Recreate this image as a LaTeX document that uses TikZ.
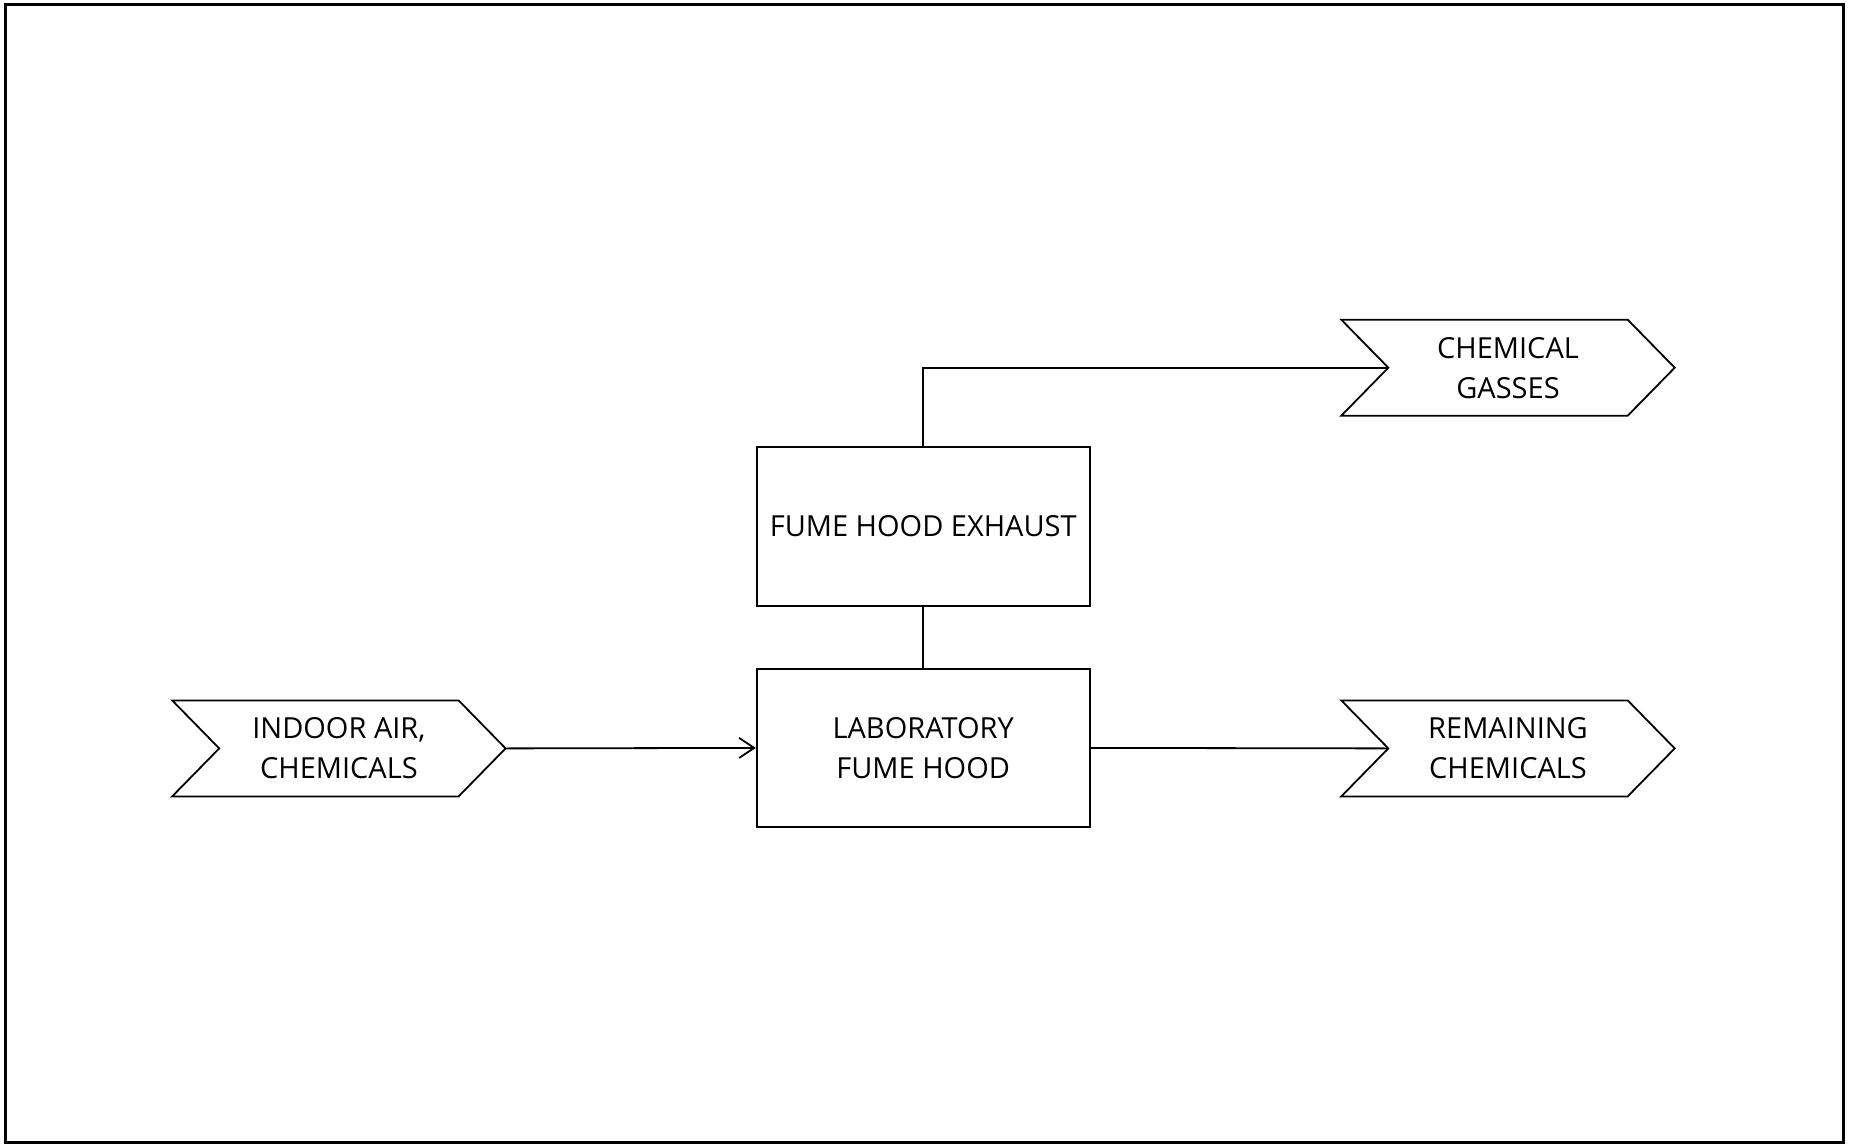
\documentclass[tikz,border=0pt]{standalone}
\usepackage{fontspec}
\setmainfont{Open Sans}
\usetikzlibrary{arrows.meta}

% outline of a chevron-shaped tag around a named node
\newcommand\chevshape[1]{%
  \draw[flow, line join=miter]
    (#1.north west) -- ([xshift=-47pt]#1.north east) -- (#1.east)
    -- ([xshift=-47pt]#1.south east) -- (#1.south west)
    -- ([xshift=47pt]#1.west) -- cycle;}

\begin{document}
\begin{tikzpicture}[x=1pt,y=-1pt,
  flow/.style={line width=1.8pt},
  label/.style={font=\fontsize{29}{40}\selectfont, align=center},
  box/.style={label, draw, line width=1.8pt, minimum width=333pt,
    minimum height=158.5pt, inner sep=0pt},
  tag/.style={label, minimum width=333pt, minimum height=95.6pt, inner sep=0pt},
  head/.style={-{Straight Barb[length=15pt,width=20pt,line width=1.8pt]}}]

\useasboundingbox (0,0) rectangle (1851,1147);
\draw[line width=3pt] (5.5,4.5) rectangle (1843,1142);

% process boxes
\node[box] (exh) at (923.2,526.5) {FUME HOOD EXHAUST};
\node[box] (lab) at (923.2,747.9) {LABORATORY\\FUME HOOD};

% input / output tags
\node[tag] (in)  at (338.9,748.4) {INDOOR AIR,\\CHEMICALS};
\node[tag] (gas) at (1508,367.7)  {CHEMICAL\\GASSES};
\node[tag] (rem) at (1508,748.4)  {REMAINING\\CHEMICALS};
\chevshape{in}
\chevshape{gas}
\chevshape{rem}

\coordinate (inTip)    at (in.east);
\coordinate (gasNotch) at ([xshift=47pt]gas.west);
\coordinate (remNotch) at ([xshift=47pt]rem.west);

% flows
\draw[flow, head] (inTip) -- (lab.west);
\draw[flow] (lab.north) -- (exh.south);
\draw[flow] (exh.north) |- (gasNotch);
\draw[flow] (lab.east) -- (remNotch);
\end{tikzpicture}
\end{document}
